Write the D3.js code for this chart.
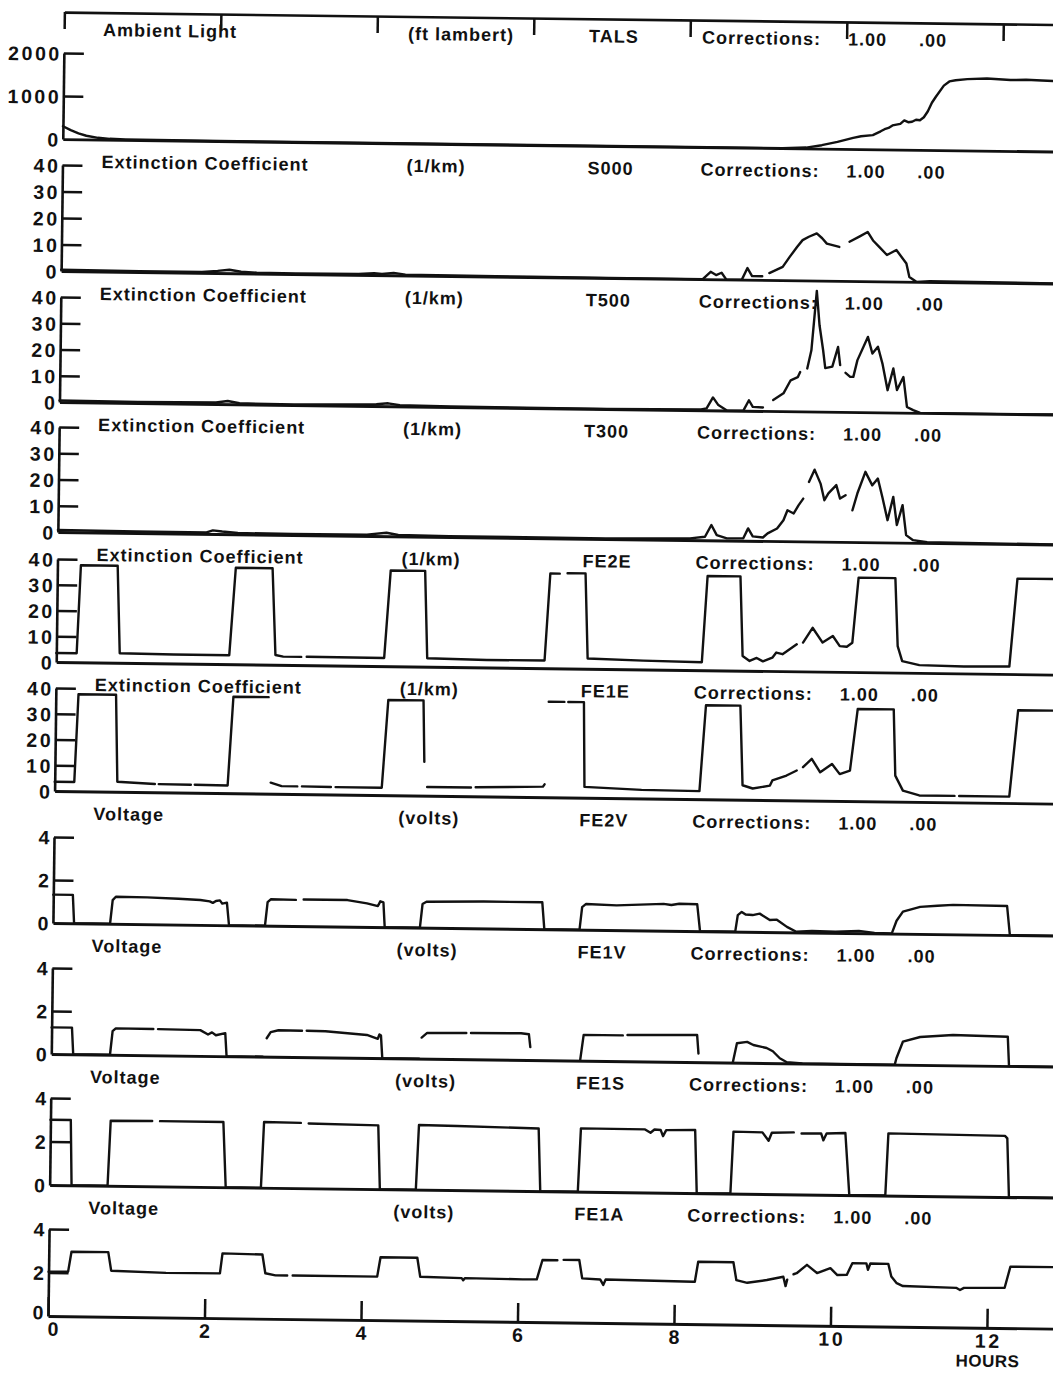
<!DOCTYPE html>
<html><head><meta charset="utf-8">
<script src="https://cdn.jsdelivr.net/npm/d3@7"></script>
<style>
html,body{margin:0;padding:0;background:#fff;}
svg{display:block;}
text{font-family:"Liberation Sans",Arial,Helvetica,sans-serif;font-weight:bold;fill:#111;}
</style></head><body>
<svg id="c" width="1053" height="1374"></svg>
<script>
// ---------- DATA ----------
const panelNames = ["Ambient Light","Extinction Coefficient","Extinction Coefficient","Extinction Coefficient","Extinction Coefficient","Extinction Coefficient","Voltage","Voltage","Voltage","Voltage"];
const panelUnits = ["(ft lambert)","(1/km)","(1/km)","(1/km)","(1/km)","(1/km)","(volts)","(volts)","(volts)","(volts)"];
const panelCodes = ["TALS","S000","T500","T300","FE2E","FE1E","FE2V","FE1V","FE1S","FE1A"];
const corrA = "1.00";
const corrB = ".00";
const yMaxes = [2000,40,40,40,40,40,4,4,4,4];
const yTickVals = [[0,1000,2000],[0,10,20,30,40],[0,10,20,30,40],[0,10,20,30,40],[0,10,20,30,40],[0,10,20,30,40],[0,2,4],[0,2,4],[0,2,4],[0,2,4]];
const hourTicks = [0,2,4,6,8,10,12];
const hourLabel = "HOURS";

const tals = [[0,300],[0.1,210],[0.2,140],[0.3,85],[0.45,40],[0.6,20],[0.8,10],[1.2,5],[2,3],[4,2],[6,1],[8,0],[9.2,0],[9.5,20],[9.7,80],[9.9,160],[10.1,260],[10.2,300],[10.35,330],[10.45,420],[10.5,470],[10.55,500],[10.6,560],[10.7,600],[10.75,680],[10.8,640],[10.85,650],[10.9,700],[10.95,690],[11.0,760],[11.05,900],[11.1,1100],[11.15,1240],[11.25,1500],[11.32,1600],[11.4,1630],[11.55,1660],[11.8,1680],[12.0,1660],[12.1,1650],[12.3,1660],[12.5,1650],[12.65,1640],[12.9,1640]];

const s000 = [[0,0.5],[0.5,0.4],[1,0.3],[1.8,0.3],[2.0,0.8],[2.15,1.3],[2.3,0.6],[2.5,0.3],[3,0.2],[3.8,0.3],[4.0,0.7],[4.1,0.4],[4.25,0.9],[4.4,0.3],[5,0.2],[6,0.1],[7,0],[8.2,0],[8.3,2.8],[8.37,1.6],[8.44,2.5],[8.5,0],[8.7,0],[8.77,4.4],[8.83,1.4],[8.96,1.4],[9.0,null],[9.05,2.6],[9.22,5],[9.31,8.9],[9.4,12.6],[9.47,15.2],[9.55,16.5],[9.65,17.8],[9.72,16],[9.78,14],[9.94,12.8],[10.0,null],[10.07,14.8],[10.2,16.9],[10.3,18.6],[10.37,15.4],[10.45,13],[10.55,10],[10.67,11.9],[10.8,6.9],[10.84,1.8],[10.93,0],[11.1,0.3],[12.9,0]];

const t500 = [[0,0.6],[1,0.4],[2.0,0.6],[2.15,1.2],[2.3,0.4],[3,0.2],[4.05,0.7],[4.2,1.1],[4.35,0.4],[5,0.2],[7,0],[8.2,0.3],[8.27,0.7],[8.35,4.9],[8.42,2],[8.53,0],[8.74,0],[8.81,4],[8.86,1.5],[8.99,1.3],[9.05,null],[9.12,4.2],[9.25,6.8],[9.34,11.8],[9.43,13],[9.46,15],[9.5,null],[9.55,16.4],[9.6,23.3],[9.66,46],[9.7,32.9],[9.75,23.4],[9.78,16.6],[9.87,17.2],[9.94,24.7],[9.97,17.8],[10.0,null],[10.04,14.9],[10.1,13.4],[10.14,13.4],[10.19,19.8],[10.32,28.7],[10.38,22.4],[10.45,25],[10.51,18.6],[10.58,8.5],[10.65,16.8],[10.7,8.6],[10.78,13.6],[10.83,2.2],[10.91,1],[11.0,0],[12.9,0]];

const t300 = [[0,0.8],[1,0.6],[1.9,0.6],[1.98,1.4],[2.1,1.0],[2.3,0.5],[3,0.4],[3.95,0.5],[4.2,1.3],[4.35,0.5],[5,0.3],[7,0.2],[8.08,0.6],[8.27,1.3],[8.35,5.8],[8.42,2],[8.55,0.8],[8.76,0.9],[8.82,4.7],[8.88,1.7],[9.01,1.3],[9.07,2.9],[9.19,4.8],[9.27,8],[9.32,11.8],[9.4,10.6],[9.46,13.7],[9.52,16.3],[9.55,null],[9.59,22.7],[9.66,27.4],[9.74,22],[9.79,15.8],[9.84,18.4],[9.94,21.6],[9.99,16.5],[10.06,17.8],[10.1,null],[10.15,12.1],[10.21,18.5],[10.31,26.8],[10.4,21.7],[10.47,24.3],[10.53,17.3],[10.6,8.5],[10.67,17.4],[10.72,6.7],[10.79,14.3],[10.84,2.9],[10.93,1],[11.11,0.3],[12.9,0]];

const fe2e = [[0,3.5],[0.26,3.5],[0.3,37.7],[0.77,37.7],[0.81,3.7],[1.5,3.5],[2.21,3.5],[2.28,37.5],[2.75,37.5],[2.8,3.8],[2.9,3.2],[3.13,3.2],[3.16,null],[3.2,3.3],[4.19,3.2],[4.26,37.2],[4.7,37.2],[4.74,3.3],[5.5,2.9],[6.24,3.0],[6.3,36.8],[6.42,36.8],[6.46,null],[6.52,37],[6.75,37],[6.79,4],[7.5,3.4],[8.25,3.1],[8.31,36.6],[8.73,36.6],[8.77,5.7],[8.86,3.8],[8.95,5],[9.03,3.7],[9.15,5.2],[9.2,7.2],[9.28,6.6],[9.46,10.5],[9.5,null],[9.54,11.2],[9.66,17],[9.79,11.3],[9.92,13.9],[10.01,10],[10.1,9.8],[10.17,11.4],[10.24,36.7],[10.71,36.7],[10.75,10.3],[10.81,4.5],[11.03,3],[11.6,2.7],[12.18,2.9],[12.27,37.1],[12.9,37.1]];

const fe1e = [[0,3.6],[0.25,3.6],[0.29,37.7],[0.77,37.7],[0.8,3.9],[1.28,3.2],[1.3,null],[1.33,3.2],[1.74,3.1],[1.76,null],[1.79,3.1],[2.21,3.0],[2.27,37.5],[2.72,37.5],[2.73,null],[2.76,4.3],[2.9,3.0],[3.1,3.0],[3.13,null],[3.16,3.0],[3.53,2.9],[3.56,null],[3.59,2.9],[4.18,2.9],[4.25,37],[4.7,37],[4.72,13.2],[4.73,null],[4.76,3.4],[5.32,3.4],[5.35,null],[5.38,3.5],[6.24,4.1],[6.26,5],[6.27,null],[6.3,37.1],[6.5,37.1],[6.52,null],[6.55,37.1],[6.75,37.1],[6.77,4.2],[7.5,3.3],[8.24,3.1],[8.31,36.5],[8.75,36.5],[8.79,5.6],[8.92,4.4],[9.14,5.6],[9.17,7.6],[9.35,9.6],[9.48,11.6],[9.5,null],[9.56,12.9],[9.67,16.2],[9.78,11],[9.93,14.3],[10.03,10.4],[10.16,11.8],[10.25,35.8],[10.71,35.8],[10.74,10.1],[10.84,4.3],[11.05,2.5],[11.5,2.5],[11.53,null],[11.56,2.5],[12.2,2.5],[12.3,36.1],[12.9,36.1]];

const fe2v = [[0,1.32],[0.25,1.32],[0.27,0],[0.73,0],[0.76,1.1],[0.8,1.26],[1.2,1.25],[1.6,1.2],[1.88,1.16],[2.0,1.1],[2.04,1.03],[2.08,1.12],[2.13,1.15],[2.16,1.0],[2.22,1.05],[2.25,0],[2.71,0],[2.74,1.1],[2.78,1.23],[3.1,1.22],[3.15,null],[3.2,1.24],[3.76,1.24],[4.01,1.1],[4.15,0.98],[4.18,1.2],[4.22,1.15],[4.24,0],[4.69,0],[4.72,1.1],[4.77,1.21],[5.5,1.25],[6.25,1.25],[6.28,0],[6.73,0],[6.76,1.05],[6.81,1.2],[7.2,1.15],[7.5,1.2],[7.8,1.25],[7.9,1.2],[8.0,1.26],[8.23,1.25],[8.27,0],[8.72,0],[8.75,0.77],[8.8,0.92],[8.85,0.8],[8.94,0.78],[9.03,0.85],[9.16,0.56],[9.25,0.58],[9.38,0.25],[9.5,0.03],[9.7,0.08],[10,0.05],[10.3,0.1],[10.5,0.02],[10.72,0],[10.78,0.6],[10.86,1.03],[11.08,1.26],[11.3,1.32],[11.5,1.37],[12.19,1.35],[12.23,0],[12.9,0]];

const fe1v = [[0,1.24],[0.26,1.24],[0.28,0],[0.75,0],[0.78,1.1],[0.82,1.23],[1.3,1.22],[1.33,null],[1.36,1.22],[1.9,1.2],[2.0,1.0],[2.05,1.1],[2.1,0.97],[2.22,1.07],[2.24,0],[2.7,0],[2.72,null],[2.75,0.86],[2.8,1.15],[2.9,1.24],[3.2,1.23],[3.23,null],[3.26,1.23],[3.5,1.22],[4.03,1.07],[4.17,0.9],[4.19,1.1],[4.21,1.05],[4.23,0],[4.7,0],[4.71,null],[4.73,0.98],[4.8,1.2],[5.3,1.22],[5.33,null],[5.36,1.22],[6.0,1.24],[6.1,1.2],[6.12,0.6],[6.13,null],[6.76,0.05],[6.8,1.2],[7.3,1.2],[7.33,null],[7.36,1.22],[8.25,1.26],[8.27,0.4],[8.28,null],[8.71,0],[8.76,0.9],[8.89,0.97],[8.97,0.83],[9.14,0.7],[9.22,0.55],[9.31,0.23],[9.4,0.05],[9.6,0],[10.78,0],[10.8,0.3],[10.88,1.07],[11.1,1.3],[11.52,1.41],[12.22,1.36],[12.24,0],[12.9,0]];

const fe1s = [[0,3.0],[0.26,3.0],[0.28,0],[0.74,0],[0.77,2.99],[1.3,3.0],[1.35,null],[1.4,3.0],[2.21,3.0],[2.25,0],[2.7,0],[2.73,3.02],[3.2,3.0],[3.25,null],[3.3,2.98],[4.19,2.93],[4.22,0],[4.68,0],[4.71,2.97],[5.2,2.95],[6.24,2.88],[6.27,0],[6.75,0],[6.78,2.91],[7.6,2.9],[7.67,2.75],[7.72,2.9],[7.8,2.88],[7.83,2.6],[7.87,2.88],[8.24,2.9],[8.27,0],[8.7,0],[8.73,2.85],[9.1,2.83],[9.18,2.45],[9.22,2.82],[9.5,2.85],[9.55,null],[9.6,2.8],[9.85,2.82],[9.88,2.5],[9.92,2.82],[10.16,2.85],[10.22,0],[10.68,0],[10.71,2.86],[12.2,2.81],[12.23,2.7],[12.26,0],[12.9,0]];

const fe1a = [[0,2.04],[0.25,2.05],[0.29,2.97],[0.76,2.97],[0.8,2.12],[1.5,2.05],[2.19,2.06],[2.22,2.98],[2.73,2.95],[2.77,2.09],[2.9,2.0],[3.05,2.0],[3.07,null],[3.12,2.0],[4.2,2.0],[4.24,2.89],[4.71,2.89],[4.75,2.02],[5.28,1.98],[5.3,1.88],[5.32,1.98],[6.06,1.96],[6.24,1.97],[6.31,2.86],[6.5,2.86],[6.52,null],[6.58,2.88],[6.78,2.88],[6.82,2.04],[7.05,2.0],[7.09,1.75],[7.12,2.0],[8.24,1.95],[8.26,1.95],[8.3,2.87],[8.75,2.87],[8.79,2.05],[8.93,1.93],[9.18,2.07],[9.39,2.23],[9.42,1.8],[9.44,2.1],[9.47,null],[9.52,2.35],[9.56,2.4],[9.69,2.79],[9.82,2.42],[9.99,2.65],[10.08,2.34],[10.2,2.35],[10.27,2.89],[10.45,2.89],[10.47,2.6],[10.5,2.89],[10.73,2.88],[10.77,2.3],[10.84,2.0],[10.92,1.87],[11.6,1.82],[11.65,1.72],[11.7,1.82],[12.22,1.85],[12.29,2.82],[12.9,2.83]];

const seriesList = [tals, s000, t500, t300, fe2e, fe1e, fe2v, fe1v, fe1s, fe1a];

// ---------- LAYOUT ----------
const W = 1053, H = 1374;
const baseY = [139,271,402,532,662,791,923,1054,1185,1316];
const topY  = [53,165,297,427,559,688,837,968,1098,1229];
const frameY = 12;
const colX = {title:87, unit:392, code:573, corr:686, a:832, b:903};

const svg = d3.select("#c");
svg.append("rect").attr("width", W).attr("height", H).attr("fill", "#fff");
const g = svg.append("g").attr("transform", "rotate(0.72,48,1316)");

const x = d3.scaleLinear().domain([0, 13]).range([48, 48 + 13 * 78.25]);
const plain = d => String(d);

function styleAxis(sel, sw) {
  sel.selectAll(".domain").attr("stroke", "#111").attr("stroke-width", sw);
  sel.selectAll(".tick line").attr("stroke", "#111").attr("stroke-width", 2.5);
  sel.selectAll(".tick text")
    .attr("fill", "#111")
    .style("font-family", '"Liberation Sans",Arial,sans-serif')
    .style("font-weight", "bold")
    .style("font-size", "19.5px")
    .style("letter-spacing", "2.6px");
}

// top frame
const topAxis = g.append("g").attr("transform", `translate(0,${frameY})`)
  .call(d3.axisBottom(x).tickValues(hourTicks).tickSizeInner(17).tickSizeOuter(0).tickFormat(""));
styleAxis(topAxis, 2.6);

seriesList.forEach((data, i) => {
  const y = d3.scaleLinear().domain([0, yMaxes[i]]).range([baseY[i], topY[i]]);
  const pg = g.append("g");

  // baseline (x axis)
  if (i < 9) {
    const xa = pg.append("g").attr("transform", `translate(0,${baseY[i]})`)
      .call(d3.axisBottom(x).tickValues([]).tickSizeOuter(0));
    styleAxis(xa, 2.9);
  } else {
    const xa = pg.append("g").attr("transform", `translate(0,${baseY[i]})`)
      .call(d3.axisBottom(x).tickValues(hourTicks).tickFormat(plain).tickSizeInner(-19).tickSizeOuter(0).tickPadding(6));
    styleAxis(xa, 2.9);
    xa.selectAll(".tick text").attr("dx", d => d === 0 ? "6px" : "1px");
  }

  // y axis
  const ya = pg.append("g").attr("transform", `translate(${x(0)},0)`)
    .call(d3.axisLeft(y).tickValues(yTickVals[i]).tickFormat(plain).tickSizeInner(-20).tickSizeOuter(0).tickPadding(2));
  styleAxis(ya, 2.6);
  ya.selectAll(".tick text").attr("dy", d => (i === 9 && d === 0) ? "0.15em" : "0.36em");
  ya.selectAll(".tick").filter(d => d === 0).select("line").remove();

  // data line
  const lg = d3.line()
    .defined(d => d[1] != null)
    .x(d => x(d[0]))
    .y(d => y(d[1]));
  pg.append("path").datum(data)
    .attr("d", lg)
    .attr("fill", "none")
    .attr("stroke", "#111")
    .attr("stroke-width", 2.4)
    .attr("stroke-linejoin", "round")
    .attr("stroke-linecap", "round");

  // title row
  const cy = (i === 0 ? frameY + 17 : baseY[i - 1] + 22) + 6.5;
  const row = [
    [colX.title, panelNames[i]],
    [colX.unit, panelUnits[i]],
    [colX.code, panelCodes[i]],
    [colX.corr, "Corrections:"],
    [colX.a, corrA],
    [colX.b, corrB]
  ];
  row.forEach(([tx, t]) => {
    pg.append("text").attr("x", tx).attr("y", cy)
      .style("font-size", "18px").style("letter-spacing", "1px")
      .text(t);
  });
});

// HOURS label
g.append("text").attr("x", x(12) + 1).attr("y", 1355).attr("text-anchor", "middle")
  .style("font-size", "17px").style("letter-spacing", "0.5px").text(hourLabel);
</script>
</body></html>
